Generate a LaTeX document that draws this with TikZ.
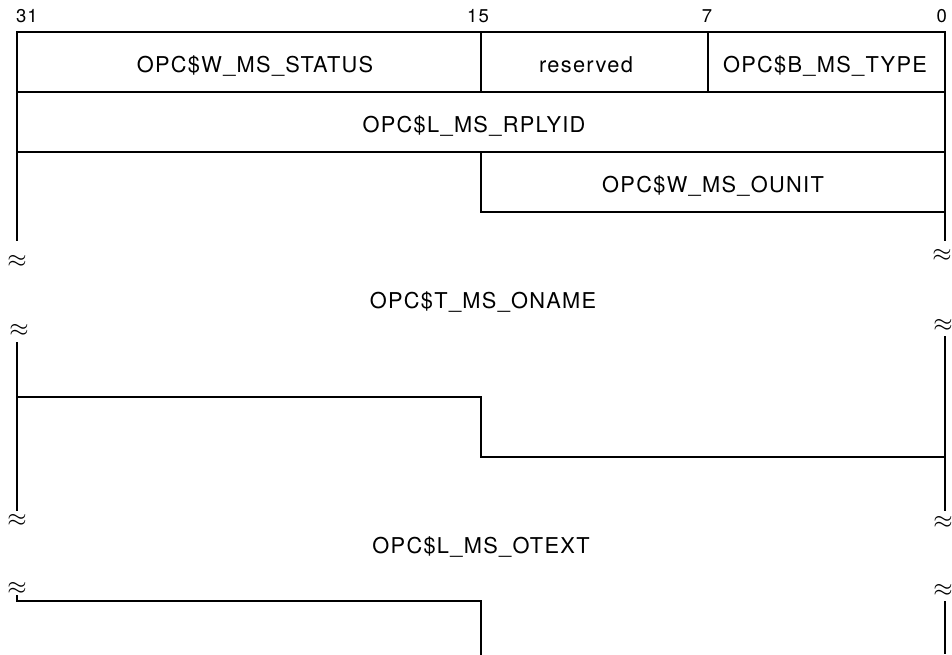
\documentclass[tikz,border=0pt]{standalone}
\usepackage{fontspec}
\setmainfont{TeX Gyre Heros}[LetterSpace=6]
\begin{document}
\begin{tikzpicture}[x=1pt,y=-1pt, line width=2.2pt, line cap=rect,
  lbl/.style={font=\fontsize{21.8}{24}\selectfont, inner sep=0pt, anchor=base},
  num/.style={font=\fontsize{18.5}{22}\selectfont, inner sep=0pt, anchor=base},
  brk/.style={font=\fontsize{24}{24}\selectfont, inner sep=0pt}]
\useasboundingbox (0,0) rectangle (952,655);
% bit numbers
\node[num, anchor=base west] (b31) at (15,23) {31};
\node[num] (b15) at (478,23) {15};
\node[num] (b7) at (707,23) {7};
\node[num, anchor=base east] (b0) at (948,23) {0};
% top block
\draw (17,240) -- (17,32) -- (945,32) -- (945,240);
\draw (481,32) -- (481,92);
\draw (708,32) -- (708,92);
\draw (17,92) -- (945,92);
\draw (17,152) -- (945,152);
\draw (481,152) -- (481,212) -- (945,212);
% middle block
\draw (17,343) -- (17,510);
\draw (17,397) -- (481,397) -- (481,457) -- (945,457);
\draw (945,337) -- (945,510);
% bottom block
\draw (17,596) -- (17,601) -- (481,601) -- (481,655);
\draw (945,602) -- (945,653);
% break marks
\node[brk] (t1) at (17,261) {$\approx$};
\node[brk] (t2) at (942,255) {$\approx$};
\node[brk] (t3) at (19,330) {$\approx$};
\node[brk] (t4) at (943,325) {$\approx$};
\node[brk] (t5) at (17,520) {$\approx$};
\node[brk] (t6) at (943,522) {$\approx$};
\node[brk] (t7) at (17,588) {$\approx$};
\node[brk] (t8) at (943,590) {$\approx$};
% field labels
\node[lbl] (status) at (255,73) {OPC\$W\_MS\_STATUS};
\node[lbl] (resv) at (586,73) {reserved};
\node[lbl] (type) at (825,73) {OPC\$B\_MS\_TYPE};
\node[lbl] (rply) at (474,133) {OPC\$L\_MS\_RPLYID};
\node[lbl] (ounit) at (713,193) {OPC\$W\_MS\_OUNIT};
\node[lbl] (oname) at (483,308) {OPC\$T\_MS\_ONAME};
\node[lbl] (otext) at (481,553) {OPC\$L\_MS\_OTEXT};
\end{tikzpicture}
\end{document}
